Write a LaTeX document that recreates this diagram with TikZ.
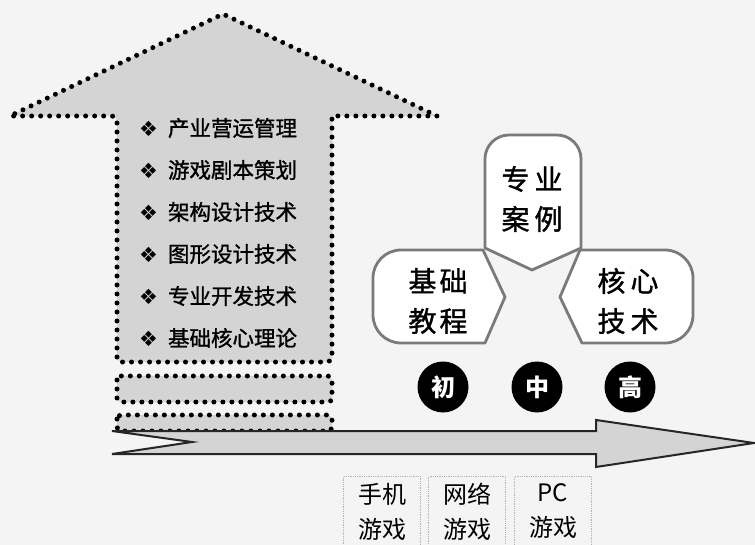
\documentclass[tikz,border=0pt]{standalone}
\usepackage{fontspec}
\newfontfamily\cjk{Noto Sans CJK SC}
\newfontfamily\cjkheavy[FakeBold=1.2]{Noto Sans CJK SC}
\newfontfamily\dingfont{DejaVu Sans}
\definecolor{paper}{HTML}{F4F4F4}
\definecolor{arrowgray}{HTML}{D4D4D4}
\definecolor{shieldline}{HTML}{7A7A7A}

\begin{document}
\begin{tikzpicture}[x=1pt,y=-1pt,
  dots/.style={draw=black,line width=5pt,line cap=round,dash pattern=on 0pt off 9pt,fill=arrowgray},
  item/.style={anchor=west,inner sep=0,font=\cjkheavy\fontsize{21.5}{21.5}\selectfont},
  shield/.style={draw=shieldline,line width=2.8pt,fill=white,line join=round},
  shieldtext/.style={align=center,inner sep=0,font=\cjkheavy\fontsize{28}{40}\selectfont},
  level/.style={circle,fill=black,text=white,minimum size=51pt,inner sep=0,font=\cjk\bfseries\fontsize{24}{24}\selectfont},
  game/.style={draw=gray!60,densely dotted,line width=0.8pt,anchor=north,align=center,text width=70pt,inner ysep=7pt,font=\cjk\fontsize{24}{35}\selectfont}]
\fill[paper] (0,0) rectangle (755,545);
\useasboundingbox (0,0) rectangle (755,545);
\clip (0,0) rectangle (755,545);

% rising arrow with topics
\draw[dots,rounded corners=5pt] (117,362) -- (117,116) [sharp corners] -- (10,116) -- (223,14) -- (437,116) -- (332,116) [rounded corners=5pt] -- (332,362) -- cycle;
\draw[dots,rounded corners=4pt] (117,376) rectangle (332,402);
\draw[dots,rounded corners=4pt] (117,415) rectangle (332,431);
\foreach \t [count=\i] in {产业营运管理,游戏剧本策划,架构设计技术,图形设计技术,专业开发技术,基础核心理论}{%
  \node[item] (topic\i) at (139,{86+42*\i}) {{\dingfont\fontsize{21}{21}\selectfont ❖}\hspace{10pt}\t};}

% timeline arrow
\draw[draw=black!85,line width=2pt,fill=arrowgray,line join=miter] (112,431) -- (596,431) -- (596,420) -- (754,443) -- (596,467) -- (596,454) -- (112,454) -- (192,442) -- cycle;

% three fields
\draw[shield] (485,248) [rounded corners=24pt] -- (485,135) -- (581,135) [sharp corners] -- (581,248) -- (532,270) -- cycle;
\draw[shield] (483,250) -- (505,297) -- (485,343) [rounded corners=28pt] -- (373,343) -- (373,250) [sharp corners] -- cycle;
\draw[shield] (580,250) [rounded corners=28pt] -- (693,250) -- (693,343) [sharp corners] -- (582,343) -- (560,297) -- cycle;
\node[shieldtext] (cases) at (532,199) {专\hspace{5pt}业\\案\hspace{5pt}例};
\node[shieldtext] (basics) at (438,301) {基\hspace{3pt}础\\教\hspace{3pt}程};
\node[shieldtext] (core) at (628,301) {核\hspace{5pt}心\\技\hspace{5pt}术};

% levels
\foreach \x/\lv/\nm in {443/初/low,537/中/mid,630/高/high}{%
  \node[level] (\nm) at (\x,387) {\lv};}

% games
\node[game] (mobile) at (382,476) {手机\\游戏};
\node[game] (online) at (467,476) {网络\\游戏};
\node[game] (pc) at (553,476) {PC\\游戏};
\end{tikzpicture}
\end{document}
